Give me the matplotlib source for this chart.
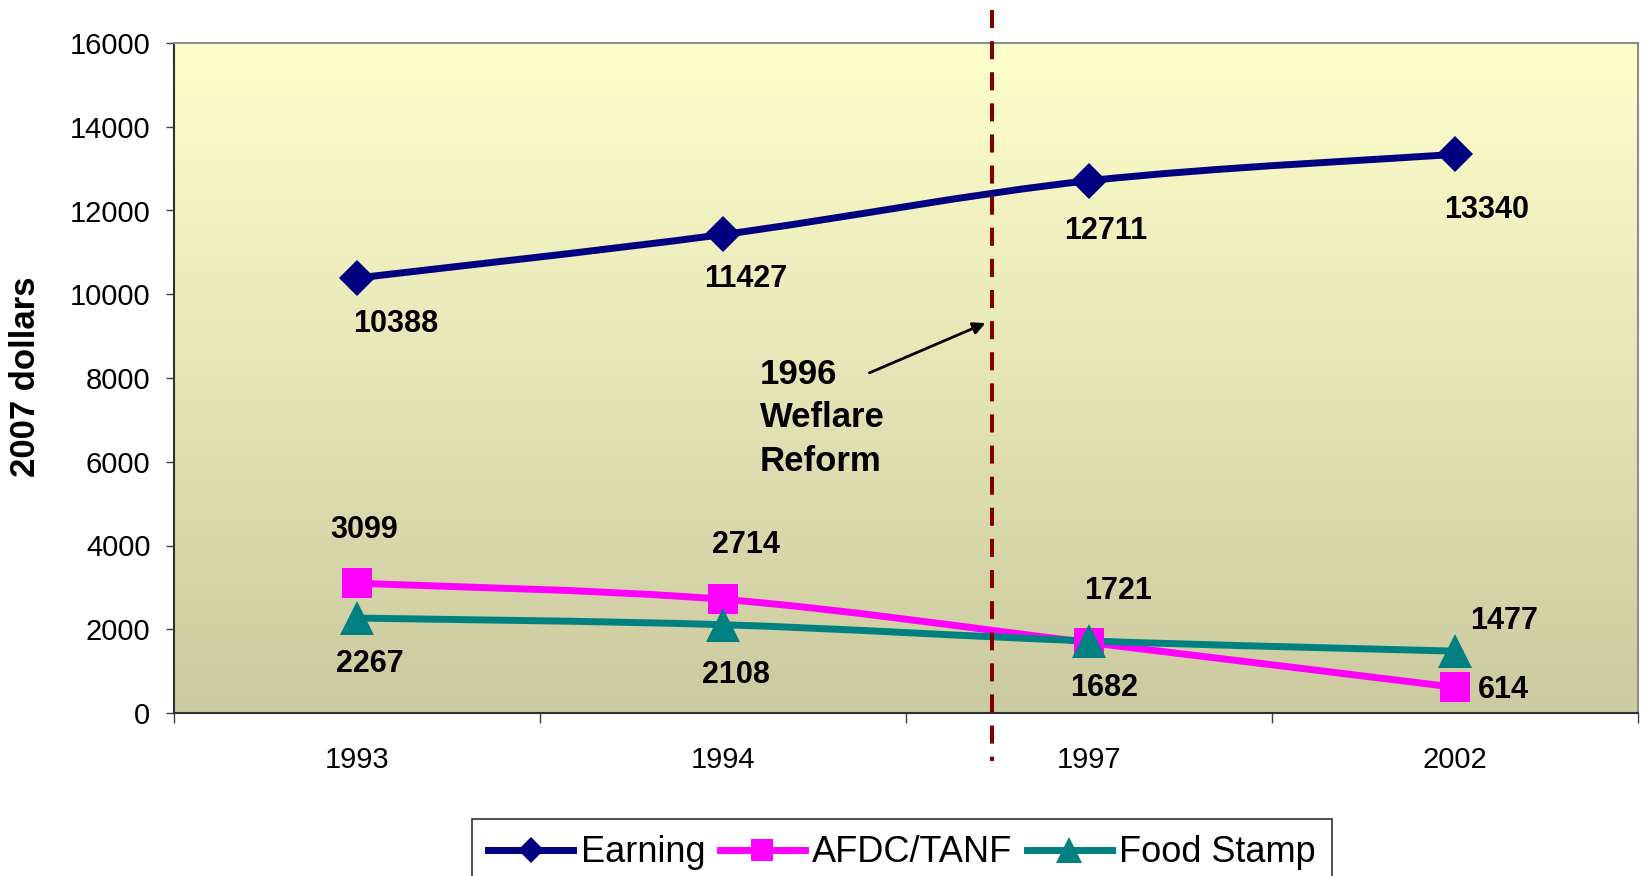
import numpy as np
import matplotlib
matplotlib.use('Agg')
import matplotlib.pyplot as plt
from matplotlib.path import Path
from matplotlib.patches import PathPatch
from matplotlib.lines import Line2D

plt.rcParams['font.family'] = ['Liberation Sans', 'DejaVu Sans']

# ---------------- data ----------------
years = ['1993', '1994', '1997', '2002']
earning = [10388, 11427, 12711, 13340]
afdc_tanf = [3099, 2714, 1682, 614]
food_stamp = [2267, 2108, 1721, 1477]
series_names = ['Earning', 'AFDC/TANF', 'Food Stamp']
y_ticks = [0, 2000, 4000, 6000, 8000, 10000, 12000, 14000, 16000]
y_label = '2007 dollars'
reform_label = '1996\nWeflare\nReform'

# ---------------- style ----------------
colors = ['#000080', '#FF00FF', '#008080']
markers = ['D', 's', '^']
marker_sizes = [18, 22, 25]
# label offsets (pixels) relative to each point
earning_off = [(39, -46), (23, -45), (17, -50), (32, -56)]
afdc_off = [(7, 53), (23, 54), (15, -45), (48, -3)]
food_off = [(13, -46), (13, -50), (29, 50), (49, 30)]
reform_x = 1.735

fig = plt.figure(figsize=(16.42, 8.76), dpi=100)
ax = fig.add_axes([174 / 1642, 1 - 713 / 876, (1638 - 174) / 1642, (713 - 43) / 876])

# gradient background
grad = np.linspace(0, 1, 256).reshape(-1, 1, 1)
top = np.array([255, 255, 204]) / 255
bot = np.array([203, 202, 160]) / 255
img = top + (bot - top) * grad
ax.imshow(img, extent=[0, 1, 0, 1], transform=ax.transAxes, aspect='auto',
          zorder=0, origin='upper')


def smooth_path(x, y):
    x = np.asarray(x, float)
    y = np.asarray(y, float)
    n = len(x)
    verts = [(x[0], y[0])]
    codes = [Path.MOVETO]
    for i in range(n - 1):
        xp, yp = (x[i - 1], y[i - 1]) if i > 0 else (x[i], y[i])
        xn, yn = (x[i + 2], y[i + 2]) if i + 2 < n else (x[i + 1], y[i + 1])
        c1 = (x[i] + (x[i + 1] - xp) / 6, y[i] + (y[i + 1] - yp) / 6)
        c2 = (x[i + 1] - (xn - x[i]) / 6, y[i + 1] - (yn - y[i]) / 6)
        verts += [c1, c2, (x[i + 1], y[i + 1])]
        codes += [Path.CURVE4] * 3
    return Path(verts, codes)


xs = np.arange(len(years))
all_series = [earning, afdc_tanf, food_stamp]
all_offs = [earning_off, afdc_off, food_off]
handles = []
for vals, col, mk, ms, name in zip(all_series, colors, markers, marker_sizes, series_names):
    patch = PathPatch(smooth_path(xs, vals), facecolor='none', edgecolor=col,
                      lw=5, capstyle='round', joinstyle='round', zorder=3)
    ax.add_patch(patch)
    ax.plot(xs, vals, linestyle='none', marker=mk, markersize=ms, color=col,
            markeredgewidth=0, zorder=4)
    handles.append(Line2D([], [], color=col, lw=5, marker=mk,
                          markersize=ms * 0.75, markeredgewidth=0))

for vals, offs in zip(all_series, all_offs):
    for xi, v, (dx, dy) in zip(xs, vals, offs):
        ax.annotate(str(v), xy=(xi, v), xytext=(dx, dy), textcoords='offset pixels',
                    ha='center', va='center', fontsize=22, fontweight='bold',
                    color='black', zorder=6)

ax.set_xlim(-0.5, len(years) - 0.5)
ax.set_ylim(0, 16000)
ax.set_yticks(y_ticks)
ax.set_yticklabels([str(t) for t in y_ticks])
ax.set_xticks(xs)
ax.set_xticklabels(years)
ax.set_xticks(np.arange(-0.5, len(years), 1.0), minor=True)

ax.tick_params(axis='y', direction='out', length=6, width=1, color='#404040',
               labelsize=21, pad=11)
ax.tick_params(axis='x', which='major', length=0, labelsize=21, pad=24)
ax.tick_params(axis='x', which='minor', direction='out', length=7, width=1,
               color='#404040')

for s in ['top', 'right']:
    ax.spines[s].set_color('#8c8c8c')
    ax.spines[s].set_linewidth(1.5)
for s in ['left', 'bottom']:
    ax.spines[s].set_color('#303030')
    ax.spines[s].set_linewidth(1.5)

# reform dashed line
lw_d = 2.9
ax.plot([reform_x, reform_x], [1.049, -0.072], transform=ax.get_xaxis_transform(),
        color='#800000', lw=lw_d, dashes=(13 / lw_d, 9.4 / lw_d), clip_on=False,
        zorder=5)

ax.text(1.101, 7045, reform_label, ha='left', va='center', fontsize=25,
        fontweight='bold', linespacing=1.4, zorder=6)
ax.annotate('', xy=(1.724, 9337), xytext=(1.393, 8096),
            arrowprops=dict(arrowstyle='-|>', color='black', lw=2,
                            mutation_scale=18), zorder=6)

fig.text(26 / 1642, 1 - 377 / 876, y_label, rotation=90, ha='center', va='center',
         fontsize=25, fontweight='bold')

leg = fig.legend(handles, series_names, loc='upper center',
                 bbox_to_anchor=(902 / 1642, 1 - 819 / 876), ncol=3, fontsize=26,
                 frameon=True, fancybox=False, edgecolor='black',
                 handlelength=2.36, handletextpad=0.2, columnspacing=0.4,
                 borderpad=0.45, borderaxespad=0)
leg.get_frame().set_linewidth(1.2)

fig.savefig('out.png', dpi=100)
